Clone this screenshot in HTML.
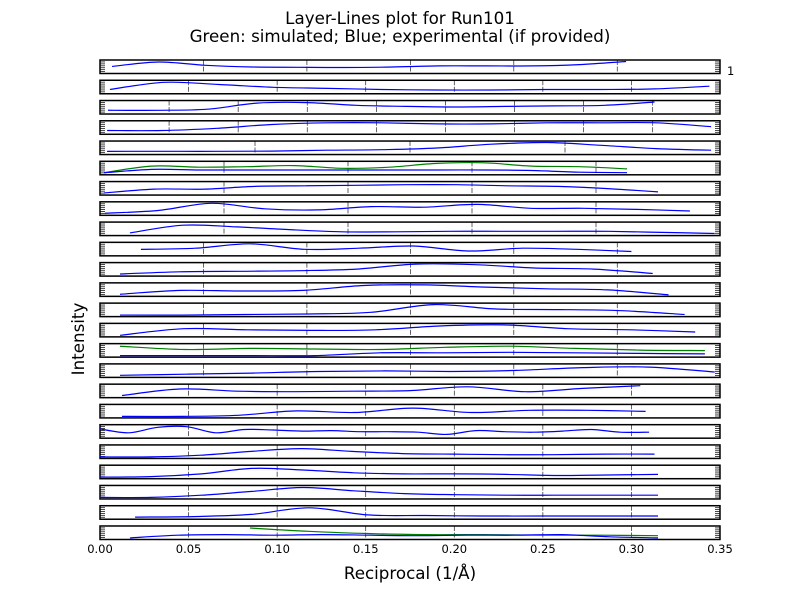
<!DOCTYPE html>
<html><head><meta charset="utf-8"><style>
body{margin:0;background:#fff}
svg{display:block;font-family:"DejaVu Sans","Liberation Sans",sans-serif}
</style></head><body>
<svg id="chart" width="800" height="600" viewBox="0 0 800 600">
<rect width="800" height="600" fill="#fff"/>
<text x="400" y="24" text-anchor="middle" font-size="16.7">Layer-Lines plot for Run101</text>
<text x="400" y="42" text-anchor="middle" font-size="16.7">Green: simulated; Blue; experimental (if provided)</text>
<text x="410" y="579" text-anchor="middle" font-size="16.7">Reciprocal (1/Å)</text>
<text x="0" y="0" transform="translate(84,339) rotate(-90)" text-anchor="middle" font-size="16.7">Intensity</text>
<text x="727" y="75" font-size="11.5">1</text>
<g id="panels"></g>
<g id="xticks"></g>
</svg>
<script>
// x tick labels
const xTicks=[0,0.05,0.10,0.15,0.20,0.25,0.30,0.35];
const xTickLabels=["0.00","0.05","0.10","0.15","0.20","0.25","0.30","0.35"];
// per-panel grid step (data units)
const gridSteps=[0.0584,0.05,0.039,0.039,0.0875,0.07,0.07,0.07,0.07,0.0584,0.0584,0.0584,0.0584,0.0584,0.0584,0.0584,0.05,0.05,0.05,0.05,0.05,0.05,0.05,0.05];
// blue (experimental) series: start, end, evenly sampled normalized intensities
const blueStart=[0.0068,0.0056,0.0045,0.004,0.004,0.0023,0.0023,0.0028,0.0169,0.0231,0.0113,0.0113,0.0113,0.0113,0.0113,0.0113,0.0124,0.0124,0,0,0,0,0.0198,0.0169];
const blueEnd=[0.297,0.344,0.313,0.345,0.345,0.2975,0.315,0.333,0.347,0.300,0.312,0.321,0.330,0.336,0.3415,0.347,0.305,0.308,0.310,0.313,0.315,0.315,0.315,0.315];
const blueValues=[
[.55,.95,.65,.5,.47,.45,.5,.6,.6,.6,.72,1.0],
[.3,.95,.75,.5,.4,.3,.25,.25,.3,.3,.35,.6],
[.25,.25,.35,.9,.95,.7,.6,.55,.6,.65,.7,1.0],
[.25,.25,.45,.8,.95,.95,.85,.85,.95,.95,.95,.6],
[.2,.2,.2,.22,.3,.35,.5,.85,1.0,.75,.45,.3],
[.1,.4,.35,.35,.35,.35,.35,.35,.35,.3,.15,.1],
[.1,.45,.45,.7,.75,.8,.85,.85,.75,.7,.5,.2],
[.1,.35,1.0,.5,.4,.7,.65,.9,.55,.55,.45,.3],
[.15,.85,.7,.45,.25,.25,.3,.3,.3,.3,.2,.1],
[.5,.6,1.0,.5,.6,.8,.35,.6,.5,.3],
[.1,.3,.35,.4,.55,1.0,.95,.65,.55,.15],
[.1,.45,.4,.45,.9,.95,.75,.6,.5,.05],
[.05,.05,.1,.15,.3,1.0,.6,.55,.45,.1],
[.05,.65,.55,.5,.55,.9,1.0,.65,.55,.35],
[.05,.05,.05,.05,.3,.3,.35,.3,.25,.2],
[.1,.2,.3,.45,.5,.45,.55,.8,.85,.4],
[.1,.7,.5,.45,.5,.55,.9,.45,.75,1.0],
[.05,.05,.15,.55,.4,.8,.4,.6,.6,.5],
[.75,.4,.9,.95,.4,.7,.65,.55,.6,.5,.5,.45,.25,.6,.5,.45,.55,.7,.45,.45],
[.05,.05,.2,.55,.8,.55,.35,.3,.25,.25,.3,.3],
[.05,.1,.35,.85,.7,.45,.35,.35,.3,.2,.25,.3],
[.05,.05,.25,.6,.95,.65,.4,.3,.25,.25,.25,.25],
[.1,.15,.35,.95,.3,.25,.2,.2,.2,.2],
[.05,.3,.35,.3,.35,.3,.25,.3,.3,.35,.15,.05]
];
// green (simulated) series, panels 6, 15, 24 (1-based)
const greenPanels=[5,14,23];
const greenStart=[0.0023,0.0113,0.0847];
const greenEnd=[0.2975,0.3415,0.315];
const greenValues=[
[.1,.7,.6,.65,.75,.5,.6,.95,1.0,.7,.65,.45],
[.9,.6,.7,.65,.6,.8,.9,.7,.55,.5],
[.95,.65,.45,.35,.35,.3,.3,.25]
];

const NS="http://www.w3.org/2000/svg";
const L=100,R=720,XMAX=0.35,TOP0=60,PITCH=20.26,PH=13.5;
const xs=d=>L+(d/XMAX)*(R-L);
const panelTop=i=>TOP0+i*PITCH;
const ys=(i,v)=>panelTop(i)+PH-1-v*(PH-2.5);
const panelsG=document.getElementById('panels');
function mk(tag,attrs,parent){const e=document.createElementNS(NS,tag);for(const k in attrs)e.setAttribute(k,attrs[k]);parent.appendChild(e);return e;}
function smooth(pts){let d="M"+pts[0][0]+","+pts[0][1];for(let i=0;i<pts.length-1;i++){const p0=pts[Math.max(0,i-1)],p1=pts[i],p2=pts[i+1],p3=pts[Math.min(pts.length-1,i+2)];const c1x=p1[0]+(p2[0]-p0[0])/6,c1y=p1[1]+(p2[1]-p0[1])/6,c2x=p2[0]-(p3[0]-p1[0])/6,c2y=p2[1]-(p3[1]-p1[1])/6;d+=` C${c1x.toFixed(1)},${c1y.toFixed(1)} ${c2x.toFixed(1)},${c2y.toFixed(1)} ${p2[0].toFixed(1)},${p2[1].toFixed(1)}`;}return d;}
function series(i,start,end,vals,color,name){const n=vals.length;const pts=vals.map((v,k)=>[xs(start+(end-start)*k/(n-1)),ys(i,v)]);
const p=mk('path',{d:smooth(pts),fill:'none',stroke:color,'stroke-width':1.2},panelsG);

}
for(let i=0;i<blueValues.length;i++){
  const t=panelTop(i);
  const g=mk('g',{},panelsG);
  
  
  for(let d=gridSteps[i];d<XMAX-0.001;d+=gridSteps[i]){
    const gl=mk('line',{x1:xs(d),x2:xs(d),y1:t,y2:t+PH,stroke:'#222','stroke-width':0.7,'stroke-dasharray':'5,1.5'},g);
    
    
  }
  for(let k=1;k<7;k++){const yy=t+k*PH/7;
    mk('line',{x1:L,x2:L+5,y1:yy,y2:yy,stroke:'#333','stroke-width':0.9},g);
    mk('line',{x1:R-5,x2:R,y1:yy,y2:yy,stroke:'#333','stroke-width':0.9},g);}
  const fr=mk('rect',{x:L,y:t,width:R-L,height:PH,fill:'none',stroke:'#000','stroke-width':1.5},g);
  
  
}
for(let j=0;j<greenPanels.length;j++)series(greenPanels[j],greenStart[j],greenEnd[j],greenValues[j],'#008000','simulated-line');
for(let i=0;i<blueValues.length;i++)series(i,blueStart[i],blueEnd[i],blueValues[i],'#0000ff','experimental-line');
const xg=document.getElementById('xticks');
for(let k=0;k<xTicks.length;k++){
  const tx=mk('text',{x:xs(xTicks[k]),y:553,'text-anchor':'middle','font-size':11.5},xg);
  tx.textContent=xTickLabels[k];
  
  
}
</script>
</body></html>
